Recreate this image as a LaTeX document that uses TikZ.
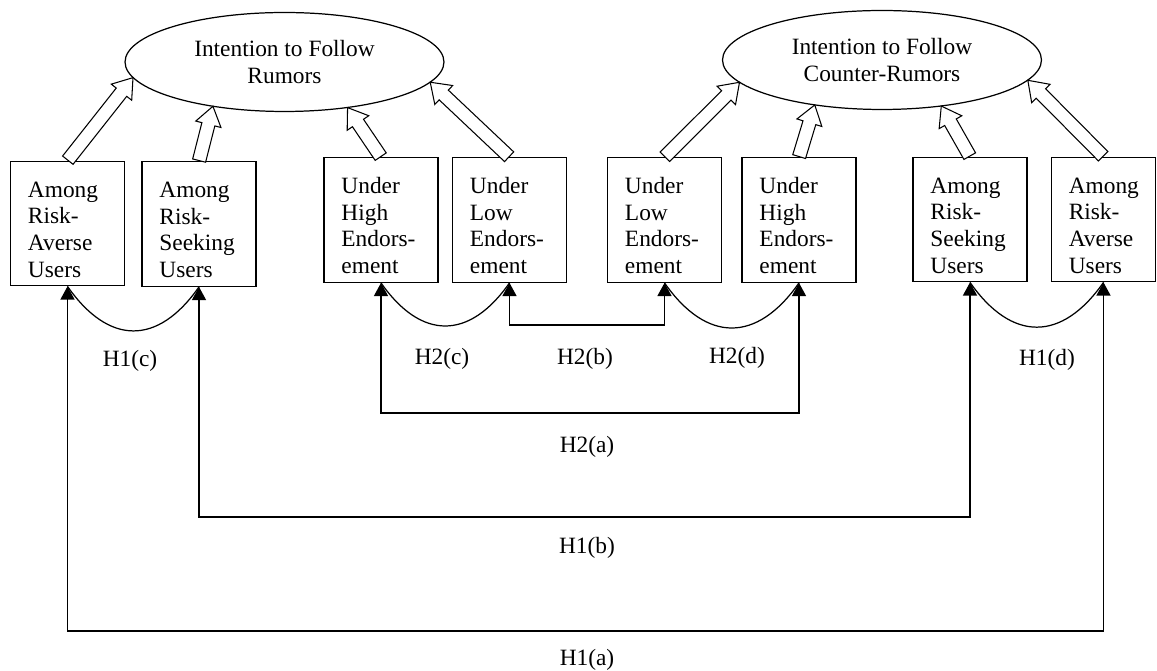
\documentclass[tikz,border=0pt]{standalone}
\usepackage{fontspec}
\setmainfont{Liberation Serif}
\usetikzlibrary{calc,arrows.meta,shapes.geometric,shapes.arrows}
\tikzset{
  txt/.style={font=\fontsize{13.3}{15.2}\selectfont},
  box/.style={txt, draw, line width=0.7pt, text width=45pt, inner xsep=10pt, inner ysep=0pt, minimum height=70.9pt, align=left,
    execute at begin node={\rule{0pt}{15.6pt}}},
  goal/.style={txt, draw, ellipse, line width=0.7pt, minimum width=6.38cm, minimum height=1.98cm, inner sep=0pt, align=center},
  fat/.style={draw, single arrow, fill=white, line width=0.6pt, inner xsep=0pt, inner ysep=3.5pt, minimum width=0pt, single arrow head extend=3.6pt, single arrow tip angle=70},
  link/.style={line width=0.7pt},
  tip/.style={link, {Triangle[width=8pt,length=7.5pt]}-{Triangle[width=8pt,length=7.5pt]}},
  hyp/.style={txt},
}
\begin{document}
\begin{tikzpicture}[x=0.02cm, y=-0.02cm]
  \useasboundingbox (0,0) rectangle (1157,671);
  % outcomes
  \node[goal] (e1) at (284.5,62) {Intention to Follow\\Rumors};
  \node[goal] (e2) at (882,60) {Intention to Follow\\Counter-Rumors};
  % conditions
  \node[box] (b1) at (67.5,223.5) {Among\\Risk-\\Averse\\Users};
  \node[box] (b2) at (199,224) {Among\\Risk-\\Seeking\\Users};
  \node[box] (b3) at (381,220) {Under\\High\\Endors-\\ement};
  \node[box] (b4) at (509.5,220) {Under\\Low\\Endors-\\ement};
  \node[box] (b5) at (664.5,220) {Under\\Low\\Endors-\\ement};
  \node[box] (b6) at (799,220) {Under\\High\\Endors-\\ement};
  \node[box] (b7) at (970,219.5) {Among\\Risk-\\Seeking\\Users};
  \node[box, text width=39.5pt] (b8) at (1103.5,219.5) {Among\\Risk-\\Averse\\Users};
  % hollow arrows
  \foreach \src/\dst/\nm in {b1/e1.186/f1, b2/e1.212/f2, b3/e1.324/f3, b4/e1.352/f4,
                             b5/e2.189/f5, b6/e2.214/f6, b7/e2.322/f7, b8/e2.352/f8}
    \path let \p1=(\src.north), \p2=(\dst) in
      node[fat, anchor=tail, rotate={atan2(\y2-\y1,\x2-\x1)},
           minimum height={veclen(\x2-\x1,\y2-\y1)}] (\nm) at (\p1) {};
  % arcs between neighbours
  \draw[link] (b1.south) to[out=-55,in=-125,looseness=1.4] (b2.south);
  \draw[link] (b3.south) to[out=-55,in=-125,looseness=1.4] (b4.south);
  \draw[link] (b5.south) to[out=-55,in=-125,looseness=1.4] (b6.south);
  \draw[link] (b7.south) to[out=-55,in=-125,looseness=1.4] (b8.south);
  % long connectors
  \coordinate (h2b) at (587,325);
  \coordinate (h2a) at (587,413);
  \coordinate (h1b) at (587,517);
  \coordinate (h1a) at (587,631);
  \draw[tip] (b4.south) |- (h2b) -| (b5.south);
  \draw[tip] (b3.south) |- (h2a) -| (b6.south);
  \draw[tip] (b2.south) |- (h1b) -| (b7.south);
  \draw[tip] (b1.south) |- (h1a) -| (b8.south);
  % labels
  \node[hyp] (l1c) at (130,361) {H1(c)};
  \node[hyp] (l2c) at (442,359) {H2(c)};
  \node[hyp] (l2b) at (585,359) {H2(b)};
  \node[hyp] (l2d) at (737,358) {H2(d)};
  \node[hyp] (l1d) at (1047,360) {H1(d)};
  \node[hyp] (l2a) at (587,447) {H2(a)};
  \node[hyp] (l1b) at (587,548) {H1(b)};
  \node[hyp] (l1a) at (587,660) {H1(a)};
\end{tikzpicture}
\end{document}
